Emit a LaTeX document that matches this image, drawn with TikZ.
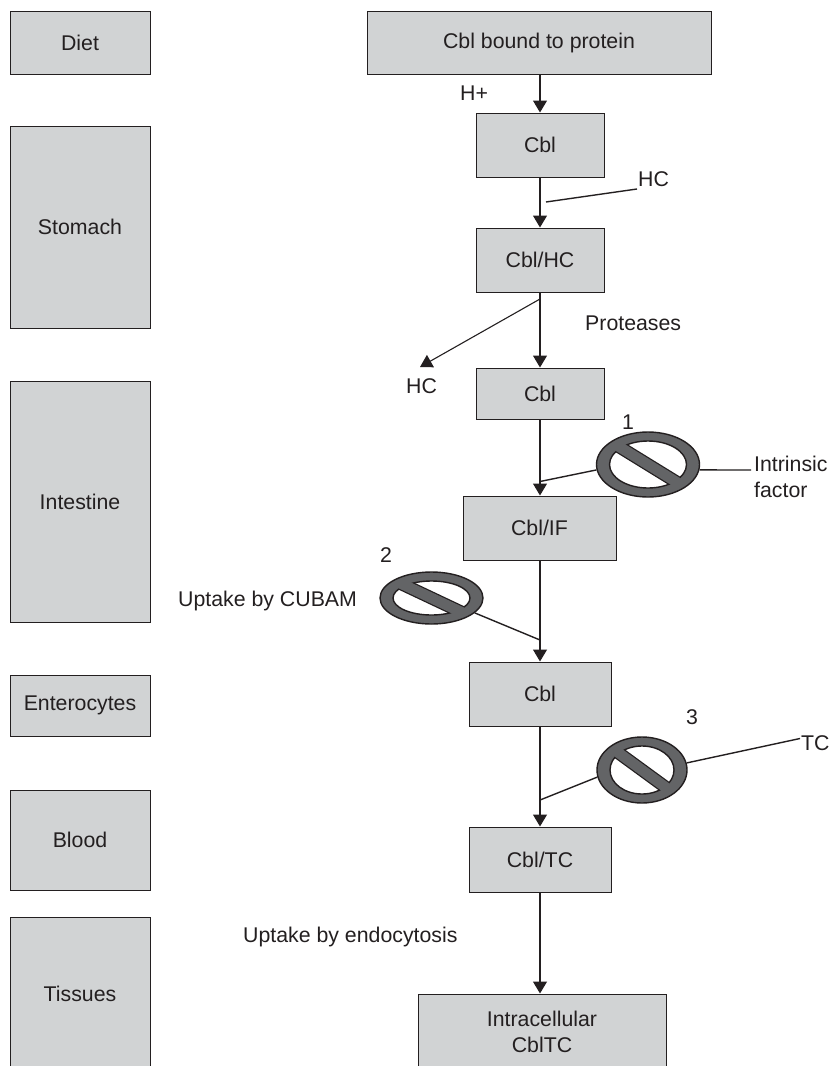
\documentclass[tikz,border=0pt]{standalone}
\usepackage{fontspec}
\setmainfont{Liberation Sans}
\usetikzlibrary{shapes.geometric,arrows.meta,calc}
\definecolor{boxgray}{HTML}{D1D3D4}
\definecolor{signgray}{HTML}{636466}
\definecolor{inkdark}{HTML}{231F20}
\tikzset{
  boxn/.style={draw=inkdark,fill=boxgray,line width=1pt,inner sep=0pt,text=inkdark,align=center,
    font=\fontsize{21.3}{26}\selectfont},
  lbl/.style={inner sep=0pt,text=inkdark,anchor=west,align=left,font=\fontsize{21.3}{26}\selectfont},
  signn/.style={ellipse,draw=inkdark,fill=signgray,line width=1.4pt,inner sep=0pt},
  conn/.style={draw=inkdark,line width=1.4pt},
  arr/.style={draw=inkdark,line width=1.1pt,-{Triangle[length=12pt,width=14pt]}}
}
% #1 name, #2 x, #3 y, #4 rx, #5 ry
\newcommand{\nosign}[5]{%
  \node[signn,minimum width=#4*2pt,minimum height=#5*2pt] (#1) at (#2,#3) {};
  \begin{scope}
    \clip (#2,#3) ellipse [x radius=#4-13,y radius=#5-9];
    \fill[white] (#2,#3) ellipse [x radius=#4-13,y radius=#5-9];
    \draw[inkdark,line width=13pt] ($(#2,#3)+(225:#4-6 and #5-4.5)$) -- ($(#2,#3)+(45:#4-6 and #5-4.5)$);
  \end{scope}
  \draw[inkdark,line width=1.4pt] (#2,#3) ellipse [x radius=#4-13,y radius=#5-9];
  \draw[signgray,line width=10.5pt] ($(#2,#3)+(225:#4-6 and #5-4.5)$) -- ($(#2,#3)+(45:#4-6 and #5-4.5)$);
}
\begin{document}
\begin{tikzpicture}[x=1pt,y=-1pt]
\clip (0,0) rectangle (830,1066);
\fill[white] (0,0) rectangle (830,1066);
% left column
\node[boxn,minimum width=140pt,minimum height=63pt] (diet) at (80,42.5) {Diet};
\node[boxn,minimum width=140pt,minimum height=202pt] (stomach) at (80,227) {Stomach};
\node[boxn,minimum width=140pt,minimum height=241pt] (intestine) at (80,501.5) {Intestine};
\node[boxn,minimum width=140pt,minimum height=61pt] (entero) at (80,705.5) {Enterocytes};
\node[boxn,minimum width=140pt,minimum height=100pt] (blood) at (80,840) {Blood};
\node[boxn,minimum width=140pt,minimum height=154pt] (tissues) at (80,994) {Tissues};
% central column
\node[boxn,minimum width=344pt,minimum height=63pt] (bound) at (539,42.5) {Cbl bound to protein};
\node[boxn,minimum width=128pt,minimum height=64pt] (cbla) at (540,145) {Cbl};
\node[boxn,minimum width=128pt,minimum height=64pt] (cblhc) at (540,260) {Cbl/HC};
\node[boxn,minimum width=128pt,minimum height=51pt] (cblb) at (540,393.5) {Cbl};
\node[boxn,minimum width=153pt,minimum height=64pt] (cblif) at (539.5,528) {Cbl/IF};
\node[boxn,minimum width=142pt,minimum height=64pt] (cblc) at (540,694) {Cbl};
\node[boxn,minimum width=142pt,minimum height=65pt] (cbltc) at (540,859.5) {Cbl/TC};
\node[boxn,minimum width=248pt,minimum height=76pt] (icell) at (542,1032) {Intracellular\\CblTC};
% signs
\nosign{sa}{648}{464.5}{51.5}{32.5}
\nosign{sb}{431.5}{598}{51.5}{26}
\nosign{sc}{642}{770}{45}{33}
% labels
\node[lbl] (hplus) at (460,93) {H+};
\node[lbl] (hca) at (638,179) {HC};
\node[lbl] (prot) at (585,323) {Proteases};
\node[lbl] (hcb) at (406,386) {HC};
\node[lbl] (numa) at (622,422) {1};
\node[lbl] (intr) at (754,476.5) {Intrinsic\\factor};
\node[lbl] (numb) at (380,555) {2};
\node[lbl] (cubam) at (178,601) {Uptake by CUBAM};
\node[lbl] (numc) at (686,717) {3};
\node[lbl] (tc) at (801,743) {TC};
\node[lbl] (endo) at (243,937) {Uptake by endocytosis};
% free ends
\coordinate (ja) at (546,202);
\coordinate (jae) at (637,189);
\coordinate (jb) at (540,299);
\coordinate (jbe) at (420,367);
\coordinate (jc) at (540,481.5);
\coordinate (jce) at (751,470);
\coordinate (jd) at (540,640);
\coordinate (je) at (540,800);
\coordinate (jee) at (800,738.5);
% main flow
\draw[arr] (bound.south -| cbla) -- (cbla.north);
\draw[arr] (cbla.south) -- (cblhc.north);
\draw[arr] (cblhc.south) -- (cblb.north);
\draw[arr] (cblb.south) -- (cblb.south |- cblif.north);
\draw[arr] (cblif.south -| cblb) -- (cblb.south |- cblc.north);
\draw[arr] (cblc.south) -- (cbltc.north);
\draw[arr] (cbltc.south) -- (cbltc.south |- icell.north);
% side lines
\draw[conn] (ja) -- (jae);
\draw[arr] (jb) -- (jbe);
\draw[conn] (jc) -- (sa.186);
\draw[conn] (sa.354) -- (jce);
\draw[conn] (sb.-19) -- (jd);
\draw[conn] (je) -- (sc.189);
\draw[conn] (sc.9) -- (jee);
\end{tikzpicture}
\end{document}
